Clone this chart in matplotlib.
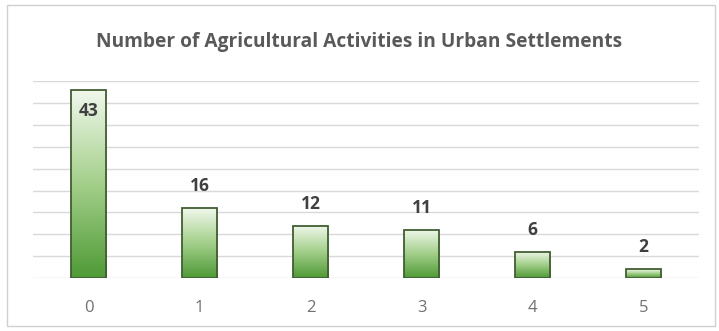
import numpy as np
import matplotlib
matplotlib.use("Agg")
import matplotlib.pyplot as plt
from matplotlib.colors import LinearSegmentedColormap
from matplotlib.patches import Rectangle

# data
categories = ["0", "1", "2", "3", "4", "5"]
counts = [43, 16, 12, 11, 6, 2]

plt.rcParams['font.family'] = ['Open Sans', 'DejaVu Sans']

fig = plt.figure(figsize=(7.19, 3.31), dpi=100)
fig.patches.append(Rectangle((0.01, 0.015), 0.985, 0.97, transform=fig.transFigure,
                             fill=False, edgecolor="#d0d0d0", lw=1))
ax = fig.add_axes([33/719, 53/331, 666/719, 196.6/331])

x = np.arange(len(categories))
w = 0.32
green = LinearSegmentedColormap.from_list("g", ["#4f9a36", "#a3cf8a", "#f1f8ec"])
grad = np.linspace(0, 1, 256).reshape(-1, 1)

bars = ax.bar(x, counts, width=w, color="none", edgecolor="#415e33", lw=1.3, zorder=3)
for b in bars:
    x0, y0 = b.get_x(), b.get_y()
    bw, bh = b.get_width(), b.get_height()
    im = ax.imshow(grad, cmap=green, origin="lower", aspect="auto",
                   extent=[x0, x0 + bw, y0, y0 + bh], zorder=2)
    im.set_clip_path(b)

for xi, v in zip(x, counts):
    if v == max(counts):
        ax.text(xi, v - 4.8, str(v), ha="center", va="center", fontsize=12.5,
                fontweight="bold", color="#404040", zorder=4)
    else:
        ax.text(xi, v + 5, str(v), ha="center", va="center", fontsize=12.5,
                fontweight="bold", color="#404040", zorder=4)

ax.set_xlim(-0.5, len(categories) - 0.5)
ax.set_ylim(0, 45)
ax.set_yticks(np.arange(0, 46, 5))
ax.yaxis.grid(True, color="#d9d9d9", lw=1)
ax.set_axisbelow(True)
ax.tick_params(axis="y", left=False, labelleft=False)
ax.tick_params(axis="x", bottom=False, pad=12, labelsize=12, labelcolor="#707070")
ax.set_xticks(x)
ax.set_xticklabels(categories)
for s in ax.spines.values():
    s.set_visible(False)

fig.text(0.5, 1 - 42/331, "Number of Agricultural Activities in Urban Settlements",
         ha="center", va="center", fontsize=13.8, fontweight="bold", color="#595959")

fig.savefig("out.png", dpi=100)
